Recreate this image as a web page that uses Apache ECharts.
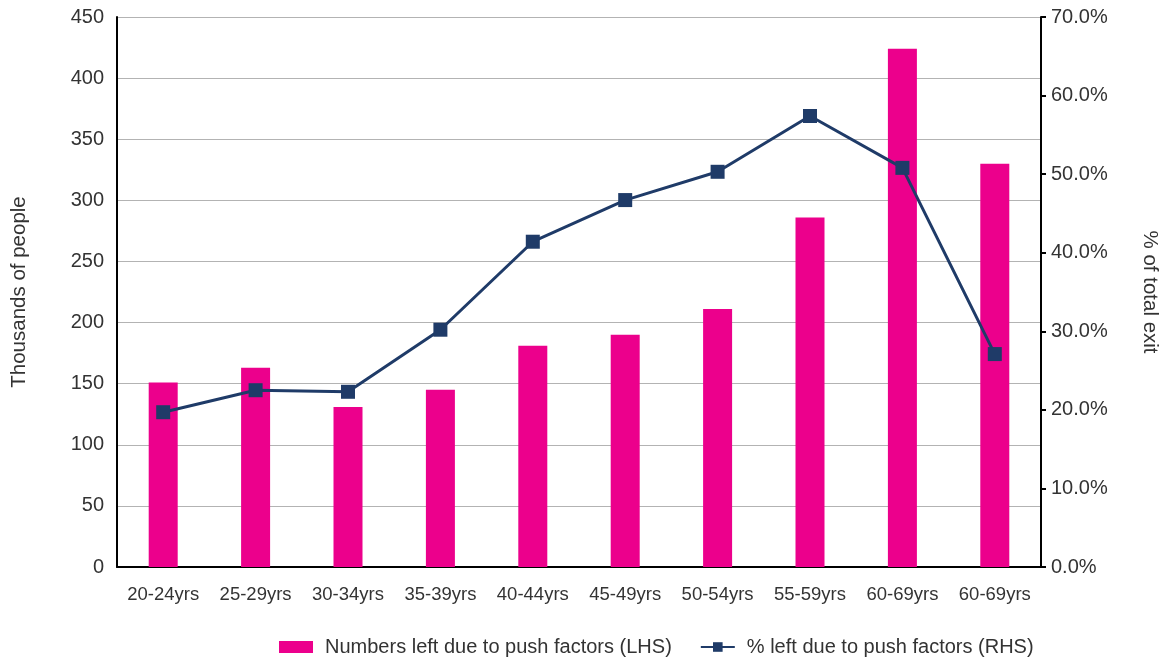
<!DOCTYPE html>
<html>
<head>
<meta charset="utf-8">
<script src="https://cdn.jsdelivr.net/npm/echarts@6/dist/echarts.min.js"></script>
<style>
  html, body { margin: 0; padding: 0; background: #fff; }
  #main { width: 1161px; height: 664px; }
</style>
</head>
<body>
<div id="main"></div>
<script>
// 数据
var categories = ['20-24yrs', '25-29yrs', '30-34yrs', '35-39yrs', '40-44yrs', '45-49yrs', '50-54yrs', '55-59yrs', '60-69yrs', '60-69yrs'];
var pushNumbers = [151, 163, 131, 145, 181, 190, 211, 286, 424, 330];
var pushShare = [19.7, 22.5, 22.3, 30.2, 41.4, 46.7, 50.3, 57.4, 50.8, 27.1];
var leftTicks = { min: 0, max: 450, interval: 50 };
var rightTicks = { min: 0, max: 70, interval: 10 };

var textColor = '#333';
var font = 'Liberation Sans';

var myChart = echarts.init(document.getElementById('main'));
var option = {
  animation: false,
  textStyle: { fontFamily: font },
  grid: { left: 117, right: 120, top: 17, bottom: 97, containLabel: false, outerBoundsMode: 'none' },
  legend: {
    bottom: 2,
    left: 274,
    itemGap: 28,
    itemWidth: 34,
    itemHeight: 12,
    textStyle: { color: textColor, fontSize: 20, fontFamily: font, padding: [0, 0, 0, 7] },
    data: [
      { name: 'Numbers left due to push factors (LHS)', icon: 'rect' },
      { name: '% left due to push factors (RHS)' }
    ]
  },
  xAxis: {
    type: 'category',
    data: categories,
    axisLine: { lineStyle: { color: '#000', width: 2 } },
    axisTick: { show: false },
    axisLabel: { color: textColor, fontSize: 18.5, margin: 18, interval: 0 }
  },
  yAxis: [
    {
      type: 'value',
      min: leftTicks.min, max: leftTicks.max, interval: leftTicks.interval,
      name: 'Thousands of people',
      nameLocation: 'middle',
      nameGap: 87,
      nameTextStyle: { color: textColor, fontSize: 20.5 },
      axisLine: { show: true, lineStyle: { color: '#000', width: 2 } },
      axisTick: { show: false },
      axisLabel: { color: textColor, fontSize: 20, margin: 13 },
      splitLine: { lineStyle: { color: '#b3b3b3', width: 1 } }
    },
    {
      type: 'value',
      min: rightTicks.min, max: rightTicks.max, interval: rightTicks.interval,
      name: '% of total exit',
      nameLocation: 'middle',
      nameGap: 98,
      nameRotate: -90,
      nameTextStyle: { color: textColor, fontSize: 20.5 },
      position: 'right',
      axisLine: { show: true, lineStyle: { color: '#000', width: 2 } },
      axisTick: { show: true, length: 5, lineStyle: { color: '#000', width: 2 } },
      axisLabel: { color: textColor, fontSize: 20, margin: 10, formatter: function (v) { return v.toFixed(1) + '%'; } },
      splitLine: { show: false }
    }
  ],
  series: [
    {
      name: 'Numbers left due to push factors (LHS)',
      type: 'bar',
      yAxisIndex: 0,
      barWidth: 29,
      itemStyle: { color: '#ec008c' },
      data: pushNumbers
    },
    {
      name: '% left due to push factors (RHS)',
      type: 'line',
      yAxisIndex: 1,
      symbol: 'rect',
      symbolSize: 14,
      lineStyle: { color: '#1f3b68', width: 3 },
      itemStyle: { color: '#1f3b68' },
      data: pushShare
    }
  ]
};
myChart.setOption(option);
</script>
</body>
</html>
